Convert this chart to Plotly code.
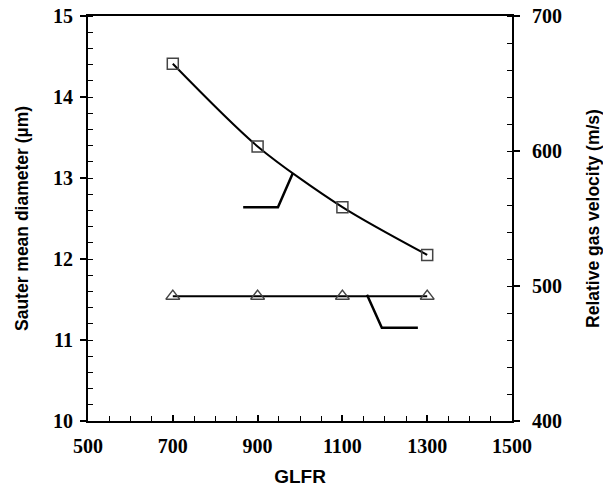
import plotly.graph_objects as go

glfr = [700, 900, 1100, 1300]
smd = [14.41, 13.39, 12.64, 12.05]          # Sauter mean diameter (µm), left axis
rel_vel = [492.5, 492.5, 492.5, 492.5]      # Relative gas velocity (m/s), right axis

fig = go.Figure()
fig.add_trace(go.Scatter(
    x=glfr, y=smd, mode="lines+markers",
    line=dict(color="black", width=2, shape="spline", smoothing=0.8),
    marker=dict(symbol="square-open", size=11, color="#444", line=dict(width=1.5)),
    showlegend=False, yaxis="y"))
fig.add_trace(go.Scatter(
    x=glfr, y=rel_vel, mode="lines+markers",
    line=dict(color="black", width=2),
    marker=dict(symbol="triangle-up-open", size=12, color="#444", line=dict(width=1.5)),
    showlegend=False, yaxis="y2"))

# callout lines (data coordinates)
fig.add_shape(type="path", path="M 983 13.06 L 948 12.64 L 866 12.64",
              xref="x", yref="y", line=dict(color="black", width=2.5))
fig.add_shape(type="path", path="M 1158 11.56 L 1193 11.15 L 1278 11.15",
              xref="x", yref="y", line=dict(color="black", width=2.5))

tickfont = dict(family="Liberation Serif", size=20, color="black", weight="bold")
ytitlefont = dict(family="Liberation Sans", size=17.5, color="black", weight="bold")
xtitlefont = dict(family="Liberation Sans", size=19, color="black", weight="bold")

fig.update_layout(
    width=603, height=487,
    margin=dict(l=88, r=91, t=16, b=66),
    plot_bgcolor="white", paper_bgcolor="white",
    xaxis=dict(range=[500, 1500], dtick=200, tick0=500, showgrid=False, zeroline=False,
               showline=True, linecolor="black", linewidth=2, mirror=True,
               ticks="inside", ticklen=6, tickwidth=1.5, tickcolor="black",
               minor=dict(dtick=50, ticks="inside", ticklen=5, tickcolor="black", tickwidth=1),
               tickfont=tickfont, automargin=False, ticklabelstandoff=6,
               title=dict(text="GLFR", font=xtitlefont, standoff=14)),
    yaxis=dict(range=[10, 15], dtick=1, showgrid=False, zeroline=False,
               showline=True, linecolor="black", linewidth=2,
               ticks="outside", ticklen=6, tickwidth=1.5, tickcolor="black",
               minor=dict(dtick=0.2, ticks="inside", ticklen=5, tickcolor="black", tickwidth=1),
               tickfont=tickfont, automargin=False, ticklabelstandoff=3,
               title=dict(text="Sauter mean diameter (µm)", font=ytitlefont, standoff=20)),
    yaxis2=dict(range=[400, 700], dtick=100, overlaying="y", side="right",
                showgrid=False, zeroline=False,
                showline=True, linecolor="black", linewidth=2,
                ticks="outside", ticklen=6, tickwidth=1.5, tickcolor="black",
                minor=dict(dtick=20, ticks="inside", ticklen=5, tickcolor="black", tickwidth=1),
                tickfont=tickfont, automargin=False, ticklabelstandoff=8,
                title=dict(text="Relative gas velocity (m/s)", font=ytitlefont, standoff=28)),
)

fig.write_html("out.html")
